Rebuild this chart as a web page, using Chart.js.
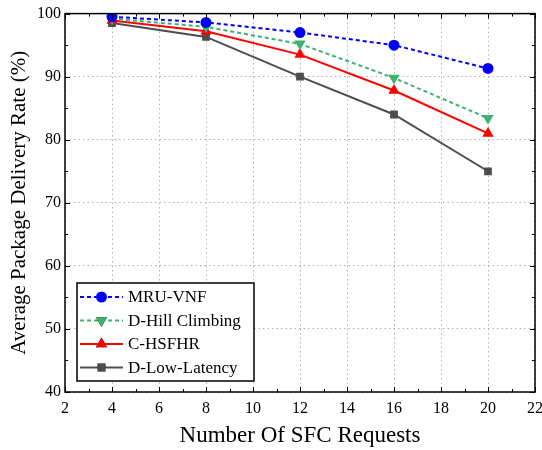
<!DOCTYPE html>
<html>
<head>
<meta charset="utf-8">
<script src="https://cdn.jsdelivr.net/npm/chart.js@4"></script>
<style>
  body { margin: 0; background: #fff; }
  #box { width: 542px; height: 450px; }
</style>
</head>
<body>
<div id="box"><canvas id="myChart"></canvas></div>
<script>
// data
var requests = [4, 8, 12, 16, 20];
var mruVnf = [99.5, 98.6, 97.0, 95.0, 91.3];
var dHill = [99.2, 97.9, 95.2, 89.8, 83.4];
var cHsfhr = [98.9, 97.2, 93.5, 87.8, 81.0];
var dLowLat = [98.5, 96.3, 90.0, 84.0, 75.0];
var xTicks = [2, 4, 6, 8, 10, 12, 14, 16, 18, 20, 22];
var yTicks = [40, 50, 60, 70, 80, 90, 100];

var serif = "'Liberation Serif', 'Times New Roman', serif";

function pts(ys) {
  return requests.map(function (x, i) { return { x: x, y: ys[i] }; });
}

var series = [
  { label: 'MRU-VNF', data: mruVnf, color: '#0000ff', dash: [4, 3], style: 'circle', rot: 0, r: 5.5 },
  { label: 'D-Hill Climbing', data: dHill, color: '#3cb371', dash: [4, 3], style: 'triangle', rot: 180, r: 6.5 },
  { label: 'C-HSFHR', data: cHsfhr, color: '#ff0000', dash: [], style: 'triangle', rot: 0, r: 6.5 },
  { label: 'D-Low-Latency', data: dLowLat, color: '#4d4d4d', dash: [], style: 'rect', rot: 0, r: 5.5 }
];

// frame, inward ticks and the legend box
var framePlugin = {
  id: 'frame',
  afterDraw: function (chart) {
    var c = chart.ctx, a = chart.chartArea;
    var xs = chart.scales.x, ys = chart.scales.y;
    c.save();
    c.strokeStyle = '#000';
    c.lineWidth = 1.5;
    c.strokeRect(a.left, a.top, a.right - a.left, a.bottom - a.top);
    c.lineWidth = 1;
    for (var v = 2; v <= 22; v++) {
      var px = Math.round(xs.getPixelForValue(v)) + 0.5;
      var len = v % 2 === 0 ? 5 : 3;
      c.beginPath();
      c.moveTo(px, a.bottom); c.lineTo(px, a.bottom - len);
      c.moveTo(px, a.top); c.lineTo(px, a.top + len);
      c.stroke();
    }
    for (var w = 40; w <= 100; w += 5) {
      var py = Math.round(ys.getPixelForValue(w)) + 0.5;
      var l2 = w % 10 === 0 ? 5 : 3;
      c.beginPath();
      c.moveTo(a.left, py); c.lineTo(a.left + l2, py);
      c.moveTo(a.right, py); c.lineTo(a.right - l2, py);
      c.stroke();
    }

    // legend
    var lx = 77, ly = 283, lw = 177, lh = 98;
    c.fillStyle = '#fff';
    c.fillRect(lx, ly, lw, lh);
    c.lineWidth = 1.5;
    c.strokeStyle = '#000';
    c.strokeRect(lx, ly, lw, lh);
    c.font = '17px ' + serif;
    c.textBaseline = 'middle';
    series.forEach(function (s, i) {
      var yy = ly + 14 + i * 23.5;
      c.strokeStyle = s.color;
      c.lineWidth = 1.8;
      c.setLineDash(s.dash);
      c.beginPath(); c.moveTo(lx + 3, yy); c.lineTo(lx + 46, yy); c.stroke();
      c.setLineDash([]);
      Chart.helpers.drawPoint(c, { pointStyle: s.style, radius: s.r, rotation: s.rot, borderWidth: 0 }, lx + 24.5, yy);
      c.fillStyle = s.color;
      c.fill();
      c.fillStyle = '#000';
      c.fillText(s.label, lx + 51, yy + 1);
    });
    c.restore();
  }
};

var ctx = document.getElementById('myChart');

var myChart = new Chart(ctx, {
  type: 'line',
  data: {
    datasets: series.map(function (s) {
      return {
        label: s.label,
        data: pts(s.data),
        borderColor: s.color,
        backgroundColor: s.color,
        borderWidth: 2,
        borderDash: s.dash,
        pointStyle: s.style,
        rotation: s.rot,
        pointRadius: s.r,
        pointBorderWidth: 0,
        tension: 0
      };
    })
  },
  options: {
    responsive: true,
    maintainAspectRatio: false,
    animation: false,
    layout: { padding: { top: 13, right: 7, left: 3, bottom: 0 } },
    plugins: {
      legend: { display: false },
      tooltip: { enabled: false }
    },
    scales: {
      x: {
        type: 'linear',
        min: 2,
        max: 22,
        afterBuildTicks: function (axis) {
          axis.ticks = xTicks.map(function (v) { return { value: v }; });
        },
        afterFit: function (axis) {
          axis.height = 58;
          axis.paddingLeft = 0;
          axis.paddingRight = 0;
        },
        ticks: {
          color: '#000',
          font: { family: serif, size: 16 },
          padding: 7,
          maxRotation: 0
        },
        grid: { color: '#b0b0b0', lineWidth: 1, drawTicks: false },
        border: { display: false, dash: [1.5, 3] },
        title: {
          display: true,
          text: 'Number Of SFC Requests',
          color: '#000',
          font: { family: serif, size: 23 },
          padding: { top: 0, bottom: 0 }
        }
      },
      y: {
        min: 40,
        max: 100,
        afterBuildTicks: function (axis) {
          axis.ticks = yTicks.map(function (v) { return { value: v }; });
        },
        afterFit: function (axis) { axis.width = 62; },
        ticks: {
          color: '#000',
          font: { family: serif, size: 16 },
          padding: 4
        },
        grid: { color: '#b0b0b0', lineWidth: 1, drawTicks: false },
        border: { display: false, dash: [1.5, 3] },
        title: {
          display: true,
          text: 'Average Package Delivery Rate (%)',
          color: '#000',
          font: { family: serif, size: 21 },
          padding: { bottom: 4 }
        }
      }
    }
  },
  plugins: [framePlugin]
});
</script>
</body>
</html>
